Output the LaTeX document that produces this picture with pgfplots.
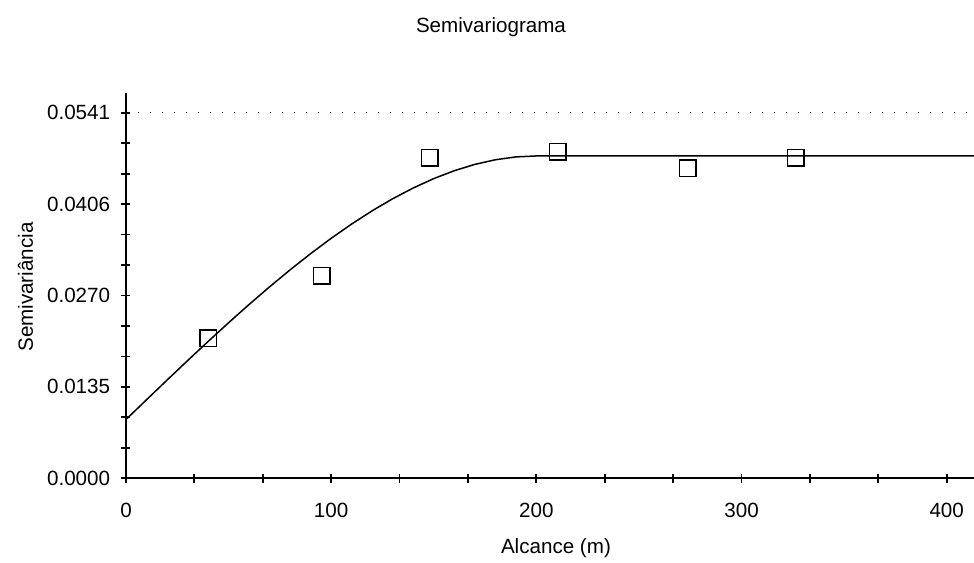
\documentclass[border=0pt]{standalone}
\usepackage{fontspec}
\setmainfont{Liberation Sans}
\usepackage{pgfplots}
\pgfplotsset{compat=1.18}
\begin{document}
\fontsize{10.3}{12}\selectfont
\begin{tikzpicture}
\useasboundingbox (-63pt,-41.85pt) rectangle (424pt,239.15pt);
\begin{axis}[
  at={(0,0)}, anchor=south west,
  scale only axis, width=424pt, height=192.8pt,
  xmin=0, xmax=413.3, ymin=0, ymax=0.05706,
  axis x line=bottom, axis y line=left,
  axis line style={-, line width=1pt, black},
  tick align=center,
  major tick length=4.5pt, minor tick length=4.5pt,
  tick style={line width=0.9pt, black},
  xtick={0,100,200,300,400},
  xticklabels={0,100,200,300,400},
  minor x tick num=2,
  ytick={0,0.013525,0.02705,0.040575,0.0541},
  yticklabels={0.0000,0.0135,0.0270,0.0406,0.0541},
  minor y tick num=2,
  scaled y ticks=false,
  tick label style={font=\fontsize{10.3}{12}\selectfont, inner sep=0pt},
  yticklabel style={anchor=east, xshift=-5.5pt},
  xticklabel style={anchor=north, yshift=-10pt},
  every axis title shift=0pt,
  title={Semivariograma},
  title style={at={(rel axis cs:0.4304,1.1556)}, anchor=base, yshift=0pt, inner sep=0pt, font=\fontsize{10.3}{12}\selectfont},
  xlabel={Alcance (m)},
  xlabel style={at={(rel axis cs:0.507,-0.1945)}, anchor=base, inner sep=0pt, font=\fontsize{10.3}{12}\selectfont},
  ylabel={Semivariância},
  ylabel style={at={(rel axis cs:-0.1097,0.4961)}, anchor=base, inner sep=0pt, font=\fontsize{10.3}{12}\selectfont},
  clip=false,
]
% sill reference (dotted)
\addplot[black, line width=0.6pt, dash pattern=on 0.6pt off 5.4pt] coordinates {(0,0.0541) (413.3,0.0541)};
% fitted model
\addplot[black, line width=0.75pt] coordinates {
(0,0.0087) (10,0.011622) (20,0.014531) (30,0.017409) (40,0.020244)
(50,0.02302) (60,0.025724) (70,0.028339) (80,0.030852) (90,0.033248)
(100,0.035513) (110,0.037631) (120,0.039588) (130,0.04137) (140,0.042962)
(150,0.044348) (160,0.045516) (170,0.04645) (180,0.047135) (190,0.047556)
(200,0.0477) (413.3,0.0477)
};
% experimental semivariances
\addplot[only marks, mark=square, mark size=4.2pt, mark options={line width=0.9pt, black, fill=none}] coordinates {
(40.0,0.02076) (95.5,0.02994) (148.1,0.0474) (210.5,0.0483) (273.9,0.0459) (326.5,0.0474)
};
\end{axis}
\end{tikzpicture}
\end{document}
